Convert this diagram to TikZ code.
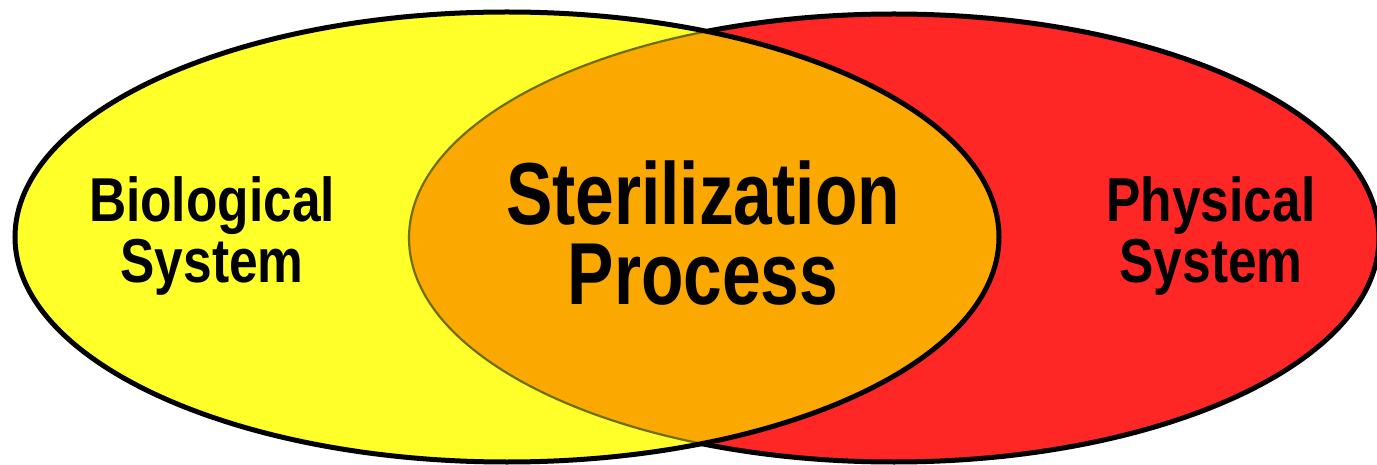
\documentclass[tikz,border=0pt]{standalone}
\usepackage{fontspec}
\newfontfamily\narrowfont[FakeStretch=0.83]{Liberation Sans}
\newfontfamily\narrowerfont[FakeStretch=0.79]{Liberation Sans}
\definecolor{venyellow}{HTML}{FFFF2A}
\definecolor{venred}{HTML}{FF2626}
\definecolor{venorange}{HTML}{FBA800}
\definecolor{venolive}{HTML}{6E6E10}
\tikzset{
  outline/.style={draw=black,line width=5pt},
  smalllabel/.style={font=\narrowfont\bfseries\fontsize{62}{61}\selectfont,align=center,inner sep=0pt,text depth=0pt},
  biglabel/.style={font=\narrowerfont\bfseries\fontsize{88}{81}\selectfont,align=center,inner sep=0pt,text depth=0pt}
}
\begin{document}
\begin{tikzpicture}[x=1pt,y=-1pt]
\useasboundingbox (0,0) rectangle (1377,465);
\coordinate (yc) at (507,237);
\coordinate (rc) at (894,238);
\begin{scope}
\clip (0,0) rectangle (1377,465);
% red ellipse
\fill[venred] (rc) ellipse [x radius=485, y radius=224];
\draw[outline] (rc) ellipse [x radius=485, y radius=224];
% yellow ellipse fill
\fill[venyellow] (yc) ellipse [x radius=492, y radius=225];
% overlap
\begin{scope}
\clip (rc) ellipse [x radius=485, y radius=224];
\fill[venorange] (yc) ellipse [x radius=492, y radius=225];
\end{scope}
% faint red outline inside yellow
\begin{scope}
\clip (yc) ellipse [x radius=492, y radius=225];
\draw[venolive,line width=2.2pt] (rc) ellipse [x radius=485, y radius=224];
\end{scope}
\draw[outline] (yc) ellipse [x radius=492, y radius=225];
\end{scope}
% labels
\node[smalllabel,anchor=base] (bio) at (212,283) {Biological\\System};
\node[biglabel,anchor=base] (ster) at (703,305) {Sterilization\\Process};
\node[smalllabel,anchor=base] (phys) at (1211,283) {Physical\\System};
\end{tikzpicture}
\end{document}
